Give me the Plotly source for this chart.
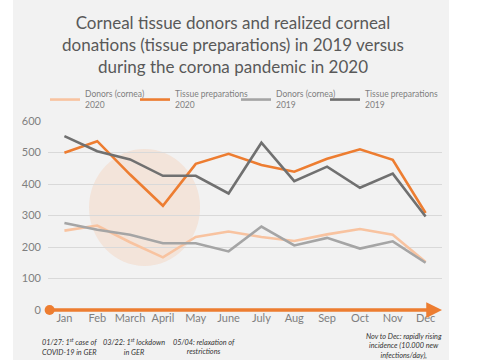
import plotly.graph_objects as go

months = ["Jan", "Feb", "March", "April", "May", "June", "July", "Aug", "Sep", "Oct", "Nov", "Dec"]
donors_2020 = [252, 268, 215, 167, 232, 249, 232, 219, 240, 257, 239, 152]
tissue_2020 = [499, 536, 430, 331, 464, 496, 460, 439, 480, 510, 477, 308]
donors_2019 = [276, 255, 239, 212, 212, 186, 265, 205, 229, 195, 218, 150]
tissue_2019 = [552, 504, 478, 426, 426, 370, 531, 409, 455, 388, 433, 297]
y_ticks = [0, 100, 200, 300, 400, 500, 600]

x = list(range(len(months)))
FONT = "Lato"
ORANGE = "#ED7D31"

fig = go.Figure()
series = [
    ("Donors (cornea)<br>2020", donors_2020, "#F8C3A0", "legend"),
    ("Tissue preparations<br>2020", tissue_2020, ORANGE, "legend2"),
    ("Donors (cornea)<br>2019", donors_2019, "#A5A5A5", "legend3"),
    ("Tissue preparations<br>2019", tissue_2019, "#707070", "legend4"),
]
for name, vals, col, lg in series:
    fig.add_trace(go.Scatter(x=x, y=vals, mode="lines", name=name, legend=lg,
                             line=dict(color=col, width=2.6)))

# timeline start dot
fig.add_trace(go.Scatter(x=[-0.45], y=[0], mode="markers", showlegend=False,
                         marker=dict(color=ORANGE, size=10), cliponaxis=False,
                         hoverinfo="skip"))

# background panel
fig.add_shape(type="rect", xref="paper", yref="paper",
              x0=(13 - 48) / 394, x1=(449 - 48) / 394,
              y0=-50 / 189, y1=310 / 189,
              fillcolor="#F2F2F2", line=dict(width=0), layer="below")
# highlight circle
fig.add_shape(type="circle", xref="x", yref="y", x0=0.75, x1=4.13, y0=140, y1=511,
              fillcolor="rgba(244,177,131,0.22)", line=dict(width=0), layer="below")

# timeline arrow
fig.add_annotation(x=11.5, y=0, ax=-0.45, ay=0, axref="x", ayref="y", xref="x", yref="y",
                   showarrow=True, arrowhead=2, arrowwidth=3.5, arrowsize=0.9,
                   arrowcolor=ORANGE, text="", standoff=0)

note_font = dict(family=FONT, size=7.3, color="#333333")
notes = [
    (69, 347, "<i>01/27: 1<sup>st</sup> case of<br>COVID-19 in GER</i>"),
    (134, 347, "<i>03/22: 1<sup>st</sup> lockdown<br>in GER</i>"),
    (204, 347, "<i>05/04: relaxation of<br>restrictions</i>"),
    (404, 346, "<i>Nov to Dec: rapidly rising<br>incidence (10.000 new<br>infections/day),</i>"),
]
for px, py, t in notes:
    fig.add_annotation(x=(px - 48) / 394, y=(310 - py) / 189, xref="paper", yref="paper",
                       text=t, showarrow=False, font=note_font, align="center",
                       xanchor="center", yanchor="middle")

legend_style = dict(orientation="h", xanchor="left", y=(310 - 82) / 189, yanchor="top",
                    font=dict(family=FONT, size=8.5, color="#7F7F7F"),
                    bgcolor="rgba(0,0,0,0)", itemwidth=30)
legend_x = [45, 135, 236, 325]

fig.update_layout(
    width=480, height=360,
    margin=dict(l=48, r=38, t=121, b=50),
    paper_bgcolor="white", plot_bgcolor="rgba(0,0,0,0)",
    title=dict(text="Corneal tissue donors and realized corneal<br>donations (tissue preparations) in 2019 versus<br>during the corona pandemic in 2020",
               x=233 / 480, xanchor="center", y=1 - 29 / 360, yanchor="middle",
               font=dict(family=FONT, size=17, color="#595959")),
    legend=dict(x=(legend_x[0] - 48) / 394, **legend_style),
    legend2=dict(x=(legend_x[1] - 48) / 394, **legend_style),
    legend3=dict(x=(legend_x[2] - 48) / 394, **legend_style),
    legend4=dict(x=(legend_x[3] - 48) / 394, **legend_style),
    xaxis=dict(range=[-0.5, 11.5], tickvals=x, ticktext=months, showgrid=False,
               zeroline=False, showline=False, ticks="",
               tickfont=dict(family=FONT, size=11, color="#7F7F7F")),
    yaxis=dict(range=[0, 600], tickvals=y_ticks, showgrid=True, gridcolor="#D9D9D9",
               gridwidth=1, zeroline=False, showline=False, ticks="", ticklabelstandoff=6,
               tickfont=dict(family=FONT, size=11, color="#7F7F7F")),
    showlegend=True,
)

fig.write_html("out.html", config={"displayModeBar": False},
               post_script="document.body.style.margin='0';")
